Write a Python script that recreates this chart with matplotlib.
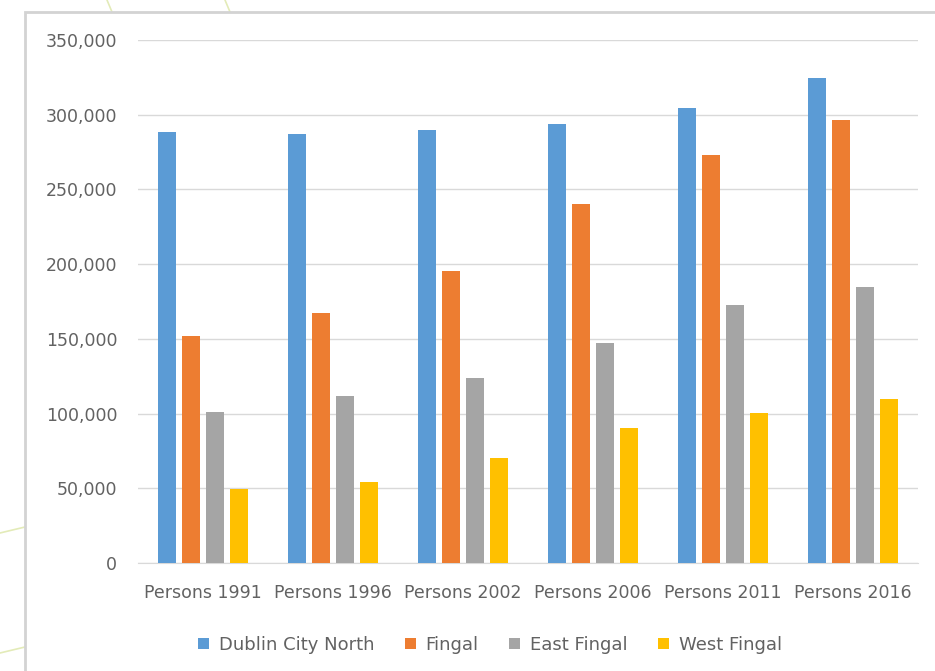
import numpy as np
import matplotlib.pyplot as plt
from matplotlib.lines import Line2D
from matplotlib.patches import Rectangle
from matplotlib.ticker import FuncFormatter

# Población por censo
categorias = ['Persons 1991', 'Persons 1996', 'Persons 2002',
              'Persons 2006', 'Persons 2011', 'Persons 2016']
dublin_city_north = [288700, 286900, 289800, 294000, 304800, 324400]
fingal = [152000, 167400, 195700, 240400, 272800, 296200]
east_fingal = [101000, 111500, 123800, 147300, 172500, 184800]
west_fingal = [49400, 54500, 70600, 90300, 100700, 109700]

series = ['Dublin City North', 'Fingal', 'East Fingal', 'West Fingal']
colores = ['#5B9BD5', '#ED7D31', '#A5A5A5', '#FFC000']
valores = [dublin_city_north, fingal, east_fingal, west_fingal]

plt.rcParams['font.family'] = ['DejaVu Sans']
gris_texto = '#626262'
gris_linea = '#D9D9D9'

fig = plt.figure(figsize=(9.35, 6.71), dpi=100)
W, H = 935, 671

# Fondo: líneas decorativas y marco del panel
for (x0, y0, x1, y1) in [(107, 0, 112, 12), (225, 0, 230, 12),
                         (0, 533, 25, 527), (0, 653, 25, 647)]:
    fig.add_artist(Line2D([x0 / W, x1 / W], [1 - y0 / H, 1 - y1 / H],
                          color='#E3EBB8', lw=1.2, zorder=-10))
fig.add_artist(Rectangle((25 / W, -0.1), 1.2, 1 - 12 / H + 0.1,
                         transform=fig.transFigure, facecolor='white',
                         edgecolor='#D3D3D3', lw=2, zorder=-5))

ax = fig.add_axes([138 / W, 1 - 563 / H, 780 / W, 523 / H])
ax.set_facecolor('none')

x = np.arange(len(categorias))
ancho = 18 / 130
paso = 24 / 130
for i, (nombre, color, vals) in enumerate(zip(series, colores, valores)):
    ax.bar(x + (i - 1.5) * paso, vals, ancho, color=color, label=nombre,
           zorder=3)

ax.set_xlim(-0.5, len(categorias) - 0.5)
ax.set_ylim(0, 350000)
ax.set_yticks(np.arange(0, 350001, 50000))
ax.yaxis.set_major_formatter(FuncFormatter(lambda v, p: f'{int(v):,}'))
ax.set_xticks(x)
ax.set_xticklabels(categorias)
ax.tick_params(axis='both', length=0, colors=gris_texto, labelsize=12.5)
ax.tick_params(axis='y', pad=15)
ax.tick_params(axis='x', pad=15)
ax.grid(axis='y', color=gris_linea, lw=1, zorder=0)
for lado in ['top', 'right', 'left']:
    ax.spines[lado].set_visible(False)
ax.spines['bottom'].set_color(gris_linea)

fig.legend(loc='center', bbox_to_anchor=(490 / W, 1 - 645 / H), ncol=4,
           frameon=False, fontsize=13, labelcolor=gris_texto,
           handlelength=0.6, handleheight=0.6, handletextpad=0.55,
           columnspacing=1.7)

fig.savefig('out.png', dpi=100)
